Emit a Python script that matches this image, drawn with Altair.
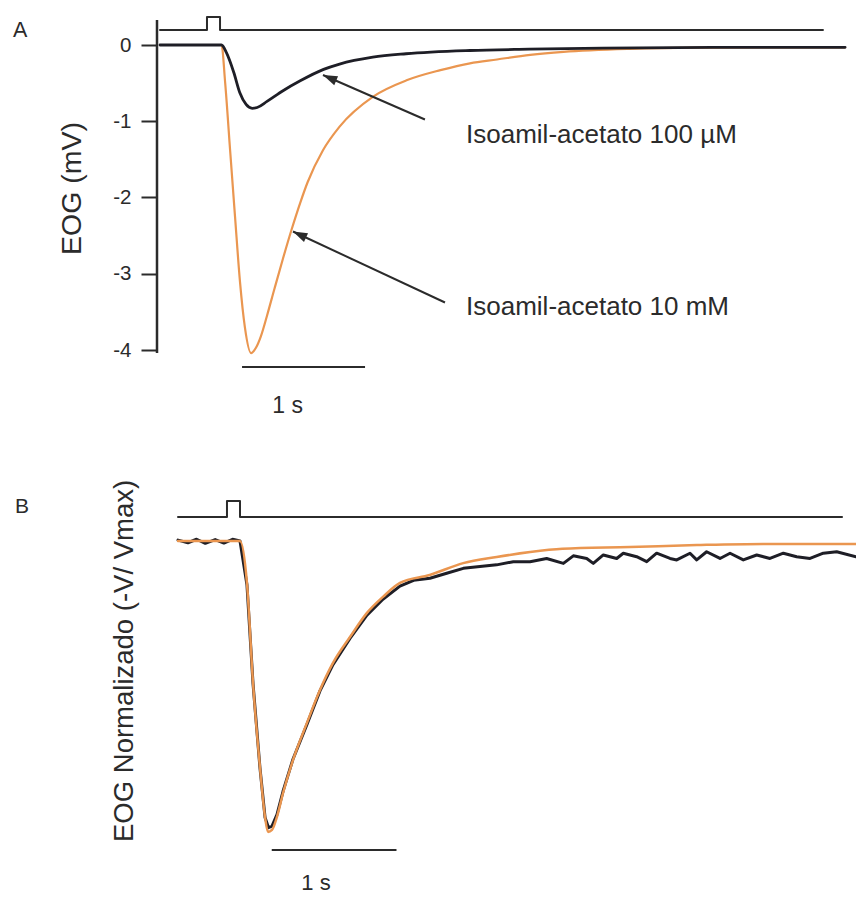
import math
import altair as alt
import pandas as pd

FONT = "Liberation Sans"
INK = "#2b2b2b"
BLACK = "#1e1e26"
ORANGE = "#EA9650"

# ---------------- Panel A : EOG (mV) vs time (s) ----------------
a_black_t = [0, 0.50, 0.54, 0.60, 0.65, 0.70, 0.75, 0.79, 0.87, 1.0, 1.14, 1.33, 1.46,
             1.73, 2.0, 2.52, 3.0, 3.6, 4.5, 5.57]
a_black_v = [0, 0, -0.10, -0.36, -0.63, -0.78, -0.83, -0.82, -0.74, -0.60, -0.47, -0.32, -0.25,
             -0.16, -0.115, -0.072, -0.055, -0.04, -0.03, -0.03]

a_orange_t = [0, 0.50, 0.53, 0.57, 0.61, 0.65, 0.69, 0.74, 0.78, 0.82, 0.87, 0.93, 1.0, 1.07,
              1.14, 1.2, 1.325, 1.46, 1.73, 2.01, 2.28, 2.52, 2.74, 3.01, 3.28, 3.82, 4.37, 5.57]
a_orange_v = [0, 0, -0.5, -1.38, -2.25, -3.1, -3.7, -4.04, -3.97, -3.82, -3.55, -3.2, -2.8, -2.42,
              -2.07, -1.8, -1.38, -1.07, -0.68, -0.46, -0.33, -0.24, -0.19, -0.13, -0.09, -0.05,
              -0.035, -0.03]

a_stim_t = [0, 0.382, 0.382, 0.488, 0.488, 5.39]
a_stim_v = [0.197, 0.197, 0.367, 0.367, 0.197, 0.197]

a_ticks = [0, -1, -2, -3, -4]

# ---------------- Panel B : normalized EOG ----------------
b_orange_t = [0, 0.5, 0.556, 0.605, 0.661, 0.702, 0.726, 0.758, 0.798, 0.847, 0.927, 1.04,
              1.145, 1.25, 1.387, 1.524, 1.653, 1.79, 2.03, 2.30, 2.57, 2.84, 3.10, 3.645,
              4.185, 4.718, 5.468]
b_orange_v = [0, 0, -0.144, -0.488, -0.777, -0.949, -1.0, -0.993, -0.948, -0.866, -0.753, -0.625,
              -0.512, -0.419, -0.33, -0.247, -0.192, -0.144, -0.117, -0.076, -0.055, -0.038, -0.027,
              -0.021, -0.014, -0.01, -0.01]

b_black_t = [0, 0.08, 0.15, 0.22, 0.3, 0.37, 0.44, 0.5, 0.556, 0.605, 0.661, 0.702, 0.73, 0.758,
             0.798, 0.847, 0.927, 1.04, 1.145, 1.25, 1.387, 1.524, 1.653, 1.79, 1.9, 2.032,
             2.167, 2.301, 2.435, 2.570, 2.704, 2.839, 2.973, 3.108, 3.188, 3.296, 3.349, 3.430,
             3.538, 3.591, 3.699, 3.780, 3.860, 3.968, 4.022, 4.129, 4.183, 4.263, 4.371, 4.452,
             4.559, 4.667, 4.774, 4.882, 4.989, 5.097, 5.204, 5.312, 5.468]
b_black_v = [0.003, -0.006, 0.006, -0.008, 0.005, -0.007, 0.006, 0.0, -0.15, -0.49, -0.78, -0.95,
             -0.985, -0.98, -0.94, -0.86, -0.75, -0.63, -0.515, -0.425, -0.335, -0.255, -0.2,
             -0.155, -0.135, -0.128, -0.111, -0.094, -0.088, -0.082, -0.071, -0.071, -0.060,
             -0.077, -0.051, -0.060, -0.077, -0.048, -0.060, -0.042, -0.054, -0.071, -0.042,
             -0.060, -0.065, -0.042, -0.065, -0.037, -0.060, -0.042, -0.065, -0.048, -0.060,
             -0.042, -0.054, -0.060, -0.042, -0.037, -0.054]

b_stim_t = [0, 0.395, 0.395, 0.5, 0.5, 5.355]
b_stim_v = [0.0825, 0.0825, 0.1375, 0.1375, 0.0825, 0.0825]

label_100uM = "Isoamil-acetato 100 µM"
label_10mM = "Isoamil-acetato 10 mM"
title_A = "EOG (mV)"
title_B = "EOG Normalizado (-V/ Vmax)"

# ---------------- scales: plot area = canvas x 157..856, y 0..902 ----------------
W, H, LEFT = 856, 902, 157
PW = W - LEFT
PXA, PYA = 123.0, 76.25      # px per s, px per mV (panel A)
PXB, PYB = 124.0, 291.0      # px per s, px per unit (panel B)
xA = alt.Scale(domain=[(LEFT - 160) / PXA, (W - 160) / PXA], nice=False, zero=False)
yA = alt.Scale(domain=[(45 - H) / PYA, 45 / PYA], nice=False, zero=False)
xB = alt.Scale(domain=[(LEFT - 178) / PXB, (W - 178) / PXB], nice=False, zero=False)
yB = alt.Scale(domain=[(541 - H) / PYB, 541 / PYB], nice=False, zero=False)


def series(t, v):
    return pd.DataFrame({"t": t, "v": v, "i": list(range(len(t)))})


def line(df, xs, ys, color, width, interp="monotone"):
    return alt.Chart(df).mark_line(color=color, strokeWidth=width, interpolate=interp,
                                   strokeJoin="round", strokeCap="round").encode(
        x=alt.X("t:Q", scale=xs, axis=None),
        y=alt.Y("v:Q", scale=ys, axis=None),
        order="i:Q",
    )


def text(t, v, s, xs, ys, size, align="left", angle=0):
    df = pd.DataFrame({"t": [t], "v": [v], "s": [s]})
    kw = dict(align=align, baseline="alphabetic", font=FONT, fontSize=size, color=INK)
    if angle:
        kw["angle"] = angle
    return alt.Chart(df).mark_text(**kw).encode(
        x=alt.X("t:Q", scale=xs, axis=None),
        y=alt.Y("v:Q", scale=ys, axis=None),
        text="s:N",
    )


def hbar(t1, t2, v, xs, ys, width=2):
    df = pd.DataFrame({"t": [t1], "t2": [t2], "v": [v]})
    return alt.Chart(df).mark_rule(color=INK, strokeWidth=width).encode(
        x=alt.X("t:Q", scale=xs, axis=None), x2="t2:Q",
        y=alt.Y("v:Q", scale=ys, axis=None),
    )


# ---- y axis of panel A (ticks, labels, title) on the axis-line layer
axis_A = alt.Axis(
    values=a_ticks, orient="left", domain=False, grid=False,
    ticks=True, tickSize=16, tickWidth=2, tickColor=INK,
    labelFont=FONT, labelFontSize=20.5, labelColor=INK, labelPadding=10,
    labelExpr="datum.value + ''",
    title=title_A, titleFont=FONT, titleFontSize=28.5, titleFontWeight="normal",
    titleColor=INK, titleX=-77, titleY=188, titleAngle=270, titleAlign="center",
    titleBaseline="alphabetic",
)
axis_line = alt.Chart(
    pd.DataFrame({"t": [(LEFT - 160) / PXA], "v": [0.328], "v2": [-4.04]})
).mark_rule(color=INK, strokeWidth=2.5).encode(
    x=alt.X("t:Q", scale=xA, axis=None),
    y=alt.Y("v:Q", scale=yA, axis=axis_A), y2="v2:Q",
)

# ---- arrows of panel A (tip -> tail, in data units)
arrows = pd.DataFrame({
    "tip_t": [1.325, 1.081], "tip_v": [-0.393, -2.446],
    "tail_t": [2.154, 2.317], "tail_v": [-0.977, -3.377],
})
heads = []
for _, r in arrows.iterrows():
    dx = (r.tail_t - r.tip_t) * PXA
    dy = -(r.tail_v - r.tip_v) * PYA
    n = math.hypot(dx, dy)
    ux, uy = dx / n, dy / n
    heads.append({"t": r.tip_t + 8 * ux / PXA, "v": r.tip_v - 8 * uy / PYA,
                  "ang": math.degrees(math.atan2(-ux, uy)) % 360})
heads = pd.DataFrame(heads)

arrow_lines = alt.Chart(arrows).mark_rule(color=INK, strokeWidth=2).encode(
    x=alt.X("tip_t:Q", scale=xA, axis=None), x2="tail_t:Q",
    y=alt.Y("tip_v:Q", scale=yA, axis=None), y2="tail_v:Q",
)
arrow_heads = alt.Chart(heads).mark_point(
    shape="M0,-1L0.6,0.8L-0.6,0.8Z", filled=True, size=256, color=INK, opacity=1, strokeWidth=0
).encode(
    x=alt.X("t:Q", scale=xA, axis=None),
    y=alt.Y("v:Q", scale=yA, axis=None),
    angle=alt.Angle("ang:Q", scale=None),
)

layers = [
    # panel A
    axis_line,
    line(series(a_stim_t, a_stim_v), xA, yA, INK, 2, "linear"),
    line(series(a_orange_t, a_orange_v), xA, yA, ORANGE, 2.2),
    line(series(a_black_t, a_black_v), xA, yA, BLACK, 2.8),
    hbar(0.667, 1.667, -4.223, xA, yA),
    text(1.037, -4.826, "1 s", xA, yA, 23, align="center"),
    text(-1.195, 0.105, "A", xA, yA, 21.5),
    text(2.488, -1.285, label_100uM, xA, yA, 26),
    text(2.488, -3.541, label_10mM, xA, yA, 26),
    arrow_lines,
    arrow_heads,
    # panel B
    line(series(b_stim_t, b_stim_v), xB, yB, INK, 2, "linear"),
    line(series(b_black_t, b_black_v), xB, yB, BLACK, 3, "linear"),
    line(series(b_orange_t, b_orange_v), xB, yB, ORANGE, 2.5),
    hbar(0.756, 1.762, -1.062, xB, yB),
    text(1.113, -1.20, "1 s", xB, yB, 22, align="center"),
    text(-1.315, 0.0962, "B", xB, yB, 21),
    text(-0.363, -0.412, title_B, xB, yB, 27.5, align="center", angle=270),
]

chart = alt.layer(*layers).resolve_scale(
    x="independent", y="independent"
).properties(
    width=PW, height=H,
    padding={"left": LEFT, "top": 0, "right": 0, "bottom": 0},
    autosize=alt.AutoSizeParams(type="none"),
    background="white",
).configure_view(stroke=None)

chart.save("out.html", embed_options={"renderer": "svg", "actions": False})
